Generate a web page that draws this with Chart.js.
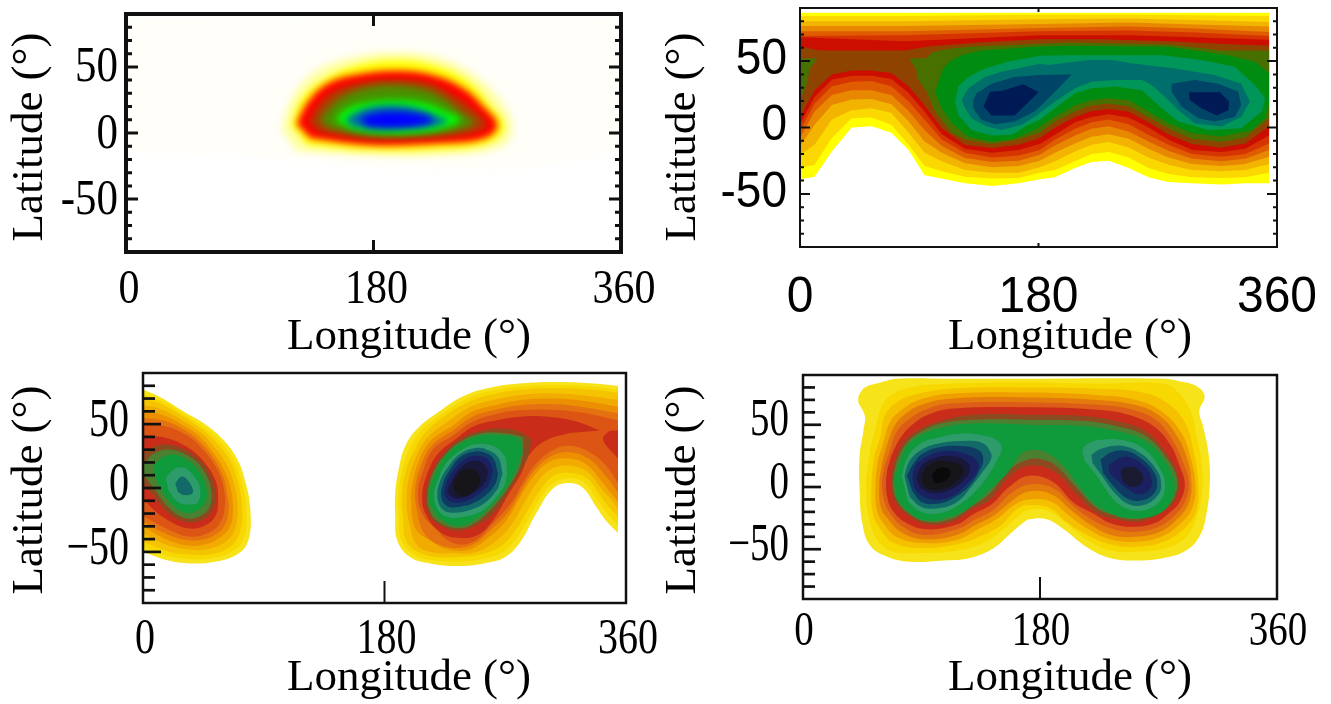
<!DOCTYPE html>
<html>
<head>
<meta charset="utf-8">
<title>Longitude-latitude contour maps</title>
<script src="https://cdn.jsdelivr.net/npm/chart.js@4"></script>
<style>
  html, body { margin: 0; padding: 0; background: #fff; }
  canvas { position: absolute; }
</style>
</head>
<body>
<canvas id="panelA" width="665" height="360" style="left:0;top:0"></canvas>
<canvas id="panelB" width="666" height="360" style="left:665px;top:0"></canvas>
<canvas id="panelC" width="665" height="344" style="left:0;top:360px"></canvas>
<canvas id="panelD" width="666" height="344" style="left:665px;top:360px"></canvas>
<script>
// ---- axis values ----
const lonTicks = [0, 180, 360];
const latTicks = [-50, 0, 50];
const latMinorTicks = [-80, -70, -60, -40, -30, -20, -10, 10, 20, 30, 40, 60, 70, 80];
const latLabelsHyphen = ['-50', '0', '50'];
const latLabelsMinus = ['\u221250', '0', '50'];

// ---- panel A: smooth map, rings are [lon, lat] from outside to inside ----
const ringsA = [
  [[3,87],[355,87],[355,-14],[3,-14]],
  [[113,2],[119,23],[133,43],[156,55],[197,61],[233,55],[258,40],[275,21],[281,2],[272,-11],[226,-17],[177,-17],[124,-14]],
  [[120,6],[128,26],[143,40],[164,50],[197,55],[228,50],[250,38],[265,21],[275,5],[264,-7.5],[226,-12.5],[177,-13],[132,-9]],
  [[124,7],[132,23],[146,37],[167,44],[197,47],[224,43.5],[245,34],[259,21],[270,6],[261,-4],[226,-8],[177,-9],[134,-4]],
  [[133,8],[141,22],[153,32],[173,38],[197,40],[221,37],[238,28],[253,17],[262,6],[253,1],[226,-3],[177,-4],[141,1]],
  [[141,10],[151,22],[163,30],[180,35],[197,36],[216,33],[231,26],[243,16],[253,8],[243,3],[221,0],[177,-1.5],[148,3.5]],
  [[152,10],[160,18],[175,23],[197,25],[216,23],[231,17],[243,10],[231,3.5],[211,0],[182,0],[163,3.5]],
  [[159,10],[168,16],[180,20],[197,21],[214,18],[226,13],[234,9],[223.5,5],[206,3.5],[180,3],[165,5]],
  [[169,10],[177,14],[194,16],[214,14],[223.5,10],[214,6],[194,4],[177,5]]
];
const coloursA = ['#fffef8', '#ffffa8', '#ffff00', '#ff0000', '#a84000', '#4a9000', '#00ff00', '#0070a8', '#0000ff'];

// ---- panel B: bands closed over the top of the map ----
const lonLowerB = [0,11,24,39,54,69,82,94,107,124.5,145,165,181,192.5,207.5,220,233,248,263,278,296,318,336,354];
const lat1LowerB = [-39,-37,-18,0,1,-4,-17,-36,-38.5,-42,-44,-42,-39,-37.5,-30.5,-26,-25,-30.5,-37.5,-41,-42,-43,-42,-42];
const lat2LowerB = [-30.5,-28,-8,7,7.5,2,-13,-29,-33,-37,-38.5,-38,-34,-32,-25.5,-20,-18.5,-22.5,-30.5,-35,-37.5,-38,-37.5,-34];
const lat3LowerB = [-20.5,-13,6,13,14.5,11,-4,-19,-25.5,-32,-34,-34,-30,-25.5,-18,-13,-11,-15,-22.5,-28,-32,-33,-32,-27.5];
const lat4LowerB = [-14,2,17,21,21.5,17.5,4.5,-10.5,-19,-27,-30,-29,-25,-19,-12,-7,-5,-8.5,-16,-22.5,-27.5,-29,-27.5,-22];
const lat5LowerB = [-8,12,24.5,28,28,24.5,12.5,-2,-14,-23,-26,-25,-20.5,-13.5,-6,-1,1,-3,-10.5,-17.5,-23.5,-25.5,-23.5,-17];
const lat6LowerB = [-2.5,18,31,34.5,35,31,19.5,6,-9,-19,-22.5,-21,-17,-9,-1,4,6,2.5,-5.5,-13,-20,-22,-20,-12];
const lat7LowerB = [2.5,23,36,39,39,36.5,26,12,-5,-16,-19,-17,-12.5,-5.5,4,8,10,7.5,0,-9,-17,-18.5,-16,-6];
const lat8LowerB = [8,28,40,43,43,41,31,17,-0.5,-13,-15.5,-13,-8,0,8,12.5,14,12,4,-5,-12.5,-15,-12,1];
const lonUpperB = [0,79,181,248,298,354];
const lat1UpperB = [86.5,86.5,86.5,86.5,86.5,86.5];
const lat2UpperB = [84,84,85,85,84.5,84];
const lat3UpperB = [80,80,81.5,82,81,79.5];
const lat4UpperB = [76.5,76.5,78,79,77.5,76];
const lat5UpperB = [72.5,72.5,75,76,74.5,72];
const lat6UpperB = [69,69.5,72.5,73,71.5,69];
const lat7UpperB = [68,65,69.5,69.5,68,66];
const lonBrownUpperB = [0,15,79,97,135,181,228,278,316,354];
const latBrownUpperB = [61,58,58,61,64,66.5,66.5,65,63,61.5];

function closeBand(lonLower, latLower, lonUpper, latUpper) {
  const lower = lonLower.map((lon, i) => [lon, latLower[i]]);
  const upper = lonUpper.map((lon, i) => [lon, latUpper[i]]).reverse();
  return lower.concat(upper);
}

const innerRingsB = [
  [[0,52],[13,52],[7.5,44.5],[5,32],[0,21]],
  [[82.5,52],[95.6,52.5],[100.6,57],[114.5,59.5],[127,60.8],[147,61.5],[181,63],[202.5,64],[278,62.5],[318,58],[354,58],[354,7],[336,-7.5],[318,-11],[295.6,-8.5],[278,-0.5],[263,8],[248,16],[232.7,18],[220,16.5],[207.5,12],[192.5,4.5],[181,-4],[164.8,-9],[144.6,-12.5],[124.5,-9],[114.5,-4],[102,12],[95.6,27],[88,38],[88,43]],
  [[102,27],[108,44.5],[114.5,50.8],[122,54.5],[137,58],[160,59.5],[177,60.8],[202.5,61.5],[278,60.8],[303,57.5],[323.3,54.5],[343.4,49.5],[354,40.8],[354,17],[351,7],[341,-1.8],[318,-6.8],[295.6,-4.2],[278,3.2],[263,12],[248,20.8],[232.7,22],[220,20.8],[207.5,16.5],[192.5,8.2],[177,-1.8],[160,-9],[144.6,-10.5],[127,-7],[114.5,3.2],[107,14.5]],
  [[117,19.5],[119.5,30.8],[127,38],[139.6,44.5],[157,49.5],[181,54],[202.5,54.5],[273,54.5],[303,50.8],[328,45.8],[343.4,32],[351,22],[348.4,12],[333,-0.5],[308,-1.8],[285.5,4.5],[273,14.5],[258,28],[237.7,30.8],[220,29.5],[207.5,25.8],[192.5,14.5],[181,5.8],[172.3,2],[160,-5.5],[144.6,-6],[129.5,-1.8],[119.5,9.5]],
  [[122,20.8],[127,29.5],[139.6,38],[152,42],[181,48],[187.4,47],[217.6,50.8],[235,50.8],[252.8,48],[283,44.5],[313,39.5],[333,33],[339.6,19.5],[333,8],[318,0.8],[298,3],[285.5,13],[275.5,23],[265.4,32],[258,35.8],[237.7,35.8],[220,34.5],[207.5,29.5],[192.5,19.5],[177,8],[167.3,2],[152,-1.8],[140.9,0.8],[129.5,7],[124.5,14.5]],
  [[130.8,20.8],[133.3,25.8],[144.6,33],[162,38],[181,39.5],[205,40],[195,29.5],[182.4,17],[177,12],[162,4.5],[147,2.5],[137,5.8],[130.8,14.5]],
  [[280.5,33],[298,35.8],[315.7,33],[330.8,27],[333,17],[328.3,8],[313,4.5],[300.6,7],[288,15.8],[280.5,27]],
  [[138.4,15.8],[143.4,27],[152,27.5],[168.5,32.5],[180,26.5],[162,9],[144.6,9]],
  [[293.6,26.5],[317,26.5],[323.8,19.5],[323.3,13],[314.5,9],[303,14.5],[294,20.8]]
];
const ringsB = [
  closeBand(lonLowerB, lat1LowerB, lonUpperB, lat1UpperB),
  closeBand(lonLowerB, lat2LowerB, lonUpperB, lat2UpperB),
  closeBand(lonLowerB, lat3LowerB, lonUpperB, lat3UpperB),
  closeBand(lonLowerB, lat4LowerB, lonUpperB, lat4UpperB),
  closeBand(lonLowerB, lat5LowerB, lonUpperB, lat5UpperB),
  closeBand(lonLowerB, lat6LowerB, lonUpperB, lat6UpperB),
  closeBand(lonLowerB, lat7LowerB, lonUpperB, lat7UpperB),
  closeBand(lonLowerB, lat8LowerB, lonBrownUpperB, latBrownUpperB)
].concat(innerRingsB);
const coloursB = ['#ffff00', '#fbd800', '#f2b400', '#e88800', '#df5c00', '#d63400', '#cc0e00', '#8f4300',
  '#487000', '#487000', '#008c10', '#00965a', '#006e6a', '#004468', '#004468', '#001a55', '#001a55'];

// ---- panel C: left lobe, then right lobe ----
const ringsC = [
  [[0,77],[13,71],[30,60],[47.5,49],[60,37.5],[70,23],[76,6],[80,-17],[78.5,-41],[70,-52],[52,-58],[35,-59],[20,-57],[0,-50]],
  [[354,80],[333,82],[308,83],[283,82],[261,79],[239,72],[221,60],[205,47],[196,34],[191,17],[188,-4],[188,-22],[189.5,-41],[199,-54],[214,-59],[234,-61],[254,-59],[270,-54],[282,-41],[293,-20],[306,0],[318,4],[328,0],[338,-15],[345.5,-26],[354,-35]],
  [[0,73.5],[13,68.5],[30,58],[46,47],[58,35.5],[67.5,22],[73.5,5],[77,-17],[75.5,-38],[67.5,-49],[51,-55],[35,-55.5],[20,-53.5],[0,-46]],
  [[354,77],[333,79.5],[308,80.5],[283,79.5],[262,76.5],[241.5,70],[223.5,58.5],[208,45.5],[199.5,32.5],[193.5,15.5],[190.5,-5.5],[191,-23.5],[192.5,-41],[202,-52],[216.5,-56.5],[234.5,-57.5],[252.5,-55.5],[268,-50],[279.5,-37.5],[290,-18.5],[301,-0.7],[310,6],[318,8],[329.5,4],[339,-10],[347,-21],[354,-28.5]],
  [[0,70],[13,66],[30,56],[45,45],[56,34],[65,21],[71,4],[74,-17],[72,-35],[65,-46],[50,-52],[35,-52],[20,-50],[0,-42]],
  [[354,74.5],[333,77],[308,78],[283,77],[263.5,74],[244,68],[226,57],[211,44],[203,31],[196,14],[193,-7],[194,-25],[196,-41],[205,-50],[219,-54],[235,-54],[251,-52],[266,-46],[277,-34],[287,-17],[296,-1.5],[306,9.4],[318,12],[331,7.6],[340.5,-5.5],[348,-16],[354,-22]],
  [[0,65],[14,61.5],[30,52.5],[44,42.5],[54,31],[62.5,18],[68,2.5],[70.5,-16],[68.5,-32.5],[61,-42.5],[47.5,-48],[32.5,-48],[17.5,-44.5],[0,-36]],
  [[354,69],[333,72],[308,74],[283,73],[263.5,69.5],[245,64],[228.5,53],[213,40.5],[204.5,26.5],[198.5,9],[196.5,-9.5],[198.5,-28],[204.5,-45],[216.5,-50.5],[231,-51],[244.5,-51],[258.5,-45],[274,-29.5],[284.5,-11],[293.5,4],[304.5,15],[318,17.5],[331,13],[342,-1],[349,-9],[354,-16.5]],
  [[0,60],[15,57],[30,49],[42.5,40],[52,28],[60,15],[65,1],[67,-15],[65,-30],[57,-39],[45,-44.5],[30,-44.5],[15,-39],[0,-30]],
  [[354,63.6],[333,67.5],[308,70],[283,69],[263.5,65],[246,60],[231,49],[215,37.5],[206,22],[201,3.7],[200,-12],[203,-31.5],[214,-41],[227.5,-48],[244,-48],[258.5,-38],[271,-25],[282,-5.5],[291,9],[303,20.6],[318,23],[331,18],[343,3.7],[354,-11]],
  [[0,55],[16.5,52.5],[31.5,45],[43,35.5],[53,22.5],[60,8],[63,-7],[64,-15],[61,-29],[53,-37],[40,-41],[25,-39],[7.5,-31],[0,-26]],
  [[354,58.5],[333,62.5],[308,65.5],[283,65],[263.5,61.5],[246,56],[231,45],[215.5,33.5],[207.5,18],[203,0],[204,-16],[210,-36],[224,-45.5],[244,-45],[259.5,-32.5],[273,-18],[282.5,-1],[292,14],[304.5,25],[318,28],[332,23],[344,10.5],[354,-3.5]],
  [[0,50.5],[18,48],[33,41],[44,31],[54,17],[60,1],[61,-15],[57,-28],[49,-35],[35,-38],[20,-33],[0,-22]],
  [[354,53],[333,58],[308,61],[283,61],[263.5,58],[246,52],[231,41],[216,30],[209,14],[205,-4],[208,-20],[217.5,-31.5],[231,-43],[246,-42],[261,-27.6],[275,-11],[283,3.7],[293,19],[306,30],[318,33],[333,28],[345.5,17],[354,3.7]],
  [[0,41],[18,39],[33,32],[45,21],[54,6],[56,-9],[54,-22],[45,-30],[33,-31.5],[20,-26],[8,-17],[0,-8]],
  [[340.5,45],[323,52],[303,55.7],[283,56],[263.5,53],[246,48],[234,39],[220,27],[212,11.5],[208,-7],[211,-21],[221,-34],[234,-39],[249,-37],[261,-25],[273,-4],[282,11.5],[288,26],[301,37.5],[318,43]],
  [[354,45],[347,44],[343,37.5],[354,23]],
  [[0,27],[10,33],[23,33],[37.5,26],[49,13],[54,-4],[51,-18.5],[41,-26],[30,-26],[18,-18.5],[6.5,-4],[0,4]],
  [[290,37.5],[282,43.5],[268.5,46.6],[253.6,45],[239,40],[225,28],[215,11.5],[211,-5.5],[213,-20],[221,-29],[233.7,-33.4],[247,-30],[261,-20],[272,-4],[282,14],[287,24.5]],
  [[0,18],[8,27],[20,30],[34,25],[45,14],[51,-3],[49,-16],[40,-23],[30,-23],[19,-15],[8,0],[0,11]],
  [[283.4,40],[271,42.7],[254.8,43.2],[238.6,37.5],[226,27],[216,11.5],[212,-5.5],[214,-18.5],[221,-27],[235,-31.5],[247,-27.6],[260,-16],[271,-1.5],[280,14],[283.4,27]],
  [[8,11.5],[9,19],[20,26],[33,22],[42.5,11.5],[47.5,-1.5],[45.5,-13],[37.5,-19],[30,-19],[20,-11],[11.5,2.4]],
  [[283,30],[279.6,39],[266,41.4],[253.6,41.4],[238.6,36],[226,25.8],[217.5,10],[213,-5.5],[216,-17],[223.7,-25.5],[235,-29.7],[247,-25],[258.5,-15],[269.7,-1.5],[278.4,14]],
  [[17,7.6],[23,14.6],[30,16],[37.5,10],[42.5,0],[41,-11],[35,-13],[26,-11],[19,-1.5]],
  [[271.4,11.5],[269.7,24.5],[261,32.8],[248.6,34.4],[237.4,29.7],[226,19.3],[220,6.3],[216.8,-5.5],[220,-17.2],[227.5,-22.9],[240,-22.4],[253.6,-17.2],[264.7,-5.5],[269.7,2.4]],
  [[24,3.7],[29,9],[35,3.7],[37,-4],[30,-5.5],[26,-3]],
  [[268,11.5],[264.7,24],[256,30.2],[246,31],[236.2,26.6],[227.5,16.7],[221.3,5],[219.5,-8],[223.7,-17.2],[232.4,-19.3],[243.6,-17.2],[256,-10.7],[264.7,-0.2]],
  [[264.7,11.5],[261,23.2],[254.8,27.6],[246,28.4],[236.2,24],[228.7,14],[223.7,3.7],[222.5,-8],[227.5,-14.6],[236.2,-14.6],[246,-12],[257.3,-4],[263,3.7]],
  [[261,14],[256,23.2],[246,25],[237.4,20.6],[230,11.5],[225,-1.5],[227.5,-9.4],[236.2,-11.4],[247.3,-6.8],[257.3,1.1]],
  [[257.3,12.8],[253.6,19.3],[246,21.4],[237.4,16.7],[231.2,7.6],[227.5,-2.8],[232.4,-8],[241,-6.8],[251,-0.2],[256,6.3]],
  [[251.6,7.6],[247.3,14],[240,14.6],[233.7,8.9],[231.2,2.4],[235,-5.5],[242.4,-5.5],[249.8,1.1]]
];
const coloursC = ['#f8e21a', '#f8e21a', '#f7d800', '#f7d800', '#f5c400', '#f5c400', '#f2ab00', '#f2ab00',
  '#ec8f00', '#ec8f00', '#e47210', '#e47210', '#dc5515', '#dc5515',
  '#c92d1a', '#c92d1a', '#c92d1a', '#8a4a20', '#8a4a20', '#4a8030', '#4a8030', '#0f9a3c', '#0f9a3c',
  '#2e9c6a', '#2e9c6a', '#126a68', '#126a68', '#0f3a64', '#1a2060', '#1a1838', '#15151a'];

// ---- panel D: outer rings, then the two lobes ----
const ringsD = [
  [[42,73],[47,80],[59,84],[71,87],[112,87],[172,87],[274,87],[286,85],[299,81],[305,73],[301,61],[304,48],[308,27],[309,3],[306,-24],[301,-40],[291,-51],[274,-57],[253,-59],[233,-57],[215,-48],[198,-34],[185,-26],[172,-26],[167,-29],[157,-38],[145,-49],[127,-57],[107,-59],[81,-60],[64,-56],[51,-47],[45,-29],[43,-2],[43,25],[46,46],[47,57],[42,68]],
  [[56,52],[60,65],[66,73],[81,80],[112,83],[172,84],[223,83],[274,83],[285,76],[294,62],[299,41],[303,17],[303,-5],[299,-24],[291,-40],[276,-49],[253,-52],[233,-51],[215,-42],[200,-29],[186,-19],[172,-18],[165,-22],[152,-34],[137,-45],[117,-51],[91,-53],[66,-51],[55,-40],[50,-24],[48,3],[51,30]],
  [[59,41],[62,57],[71,68],[84,74],[112,79],[172,80],[223,79],[258,76],[276,68],[290,52],[297,27],[300,6],[299,-18],[290,-33],[274,-44],[253,-48],[233,-46],[215,-38],[200,-28],[188,-17],[172,-14.5],[162,-18],[150,-31],[134,-40],[117,-46],[91,-49],[69,-45],[59,-34],[53,-21],[52,3],[54,25]],
  [[61,35.5],[66,52],[75,62],[88,70],[112,75],[172,76],[223,74],[253,70],[272,61],[287,44],[294,25],[298,3],[296,-16],[287,-29],[272,-40],[253,-44],[233,-42],[217,-34],[201,-22],[189,-12],[172,-10],[161,-14],[147,-26],[133,-34],[117,-42.5],[91,-45],[71,-40],[61,-29],[56,-18],[55,3],[57,22]],
  [[63,31],[69,48],[77,58],[90,66],[112,71],[172,72],[223,70],[252,66],[271,57],[284,41],[292,22],[295,3],[293,-13],[284,-26],[271,-36],[253,-40],[234,-38.5],[218,-30],[203,-18],[189,-6],[172,-3.5],[160,-10],[146,-22],[132,-30],[117,-38.5],[91,-42],[74,-36],[64,-25],[59,-16],[58,3],[60,19]],
  [[66,29],[71,44],[80,54],[93,62],[112,67],[172,68],[223,66],[250,62],[269,53],[281,37],[289,19],[293,3],[290,-12],[281,-24],[270,-32],[253,-36],[236,-34],[219,-26],[204,-14],[190,-1],[172,2],[158,-5],[145,-18],[131,-26],[117,-34],[91,-38.5],[76,-32],[66,-21],[62,-12],[60,3],[62,17]],
  [[67,25],[74,39.5],[83,50],[95,58],[114,63],[172,64],[223,62],[247,58],[266,49],[279,34],[286,17],[290,2],[286,-12],[278,-21],[267,-29],[253,-32],[236,-30],[220,-21],[205,-12],[190,4],[172,9],[157,0.5],[143,-14],[129,-22],[117,-30],[94,-34],[77,-28],[67,-17],[64,-8],[63,3],[64,14]],
  [[67,11],[71,25],[77,37],[88,46],[104,53],[129,58],[172,58],[213,57],[238,53],[260,45],[276,27],[285,9],[284,-8],[276,-18],[262,-26],[251,-28],[234,-25],[222,-20],[207,-5],[190,13],[172,17],[157,8.6],[142,-10],[128,-18],[113,-28],[94,-30],[79,-22],[70,-12],[67,0.5]],
  [[69,11],[72,23],[79,35.5],[89,44],[105,51],[129,54],[172,54],[213,53],[238,49],[260,41],[275,25],[284,7],[282,-8],[275,-17],[262,-24],[251,-26],[234,-22],[222,-16],[207,0.5],[191,18],[180,22.5],[172,22.5],[157,14],[142,-5],[128,-15.6],[112,-26],[94,-28],[80,-21],[71,-10],[68,0.5]],
  [[69,6],[74,22],[80,34],[90,42],[107,48],[129,51],[172,50],[213,49],[238,45],[260,37],[274,22],[282,3],[280,-10],[271,-21],[253,-25],[236,-22],[220,-12],[208,3],[198,17],[188,26],[180,29.5],[172,29.5],[165,26],[155,11],[142,-2],[127,-16],[112,-24],[94,-27],[80,-20],[71,-9]],
  [[75,9],[79,23],[88,34],[102,39.5],[122,43],[139,41],[148,37],[151,31],[148,23],[141,10],[131,-3.5],[119,-14],[104,-21],[90,-20],[80,-12]],
  [[212,29],[215,34],[226,38],[246,37],[261,29],[271,15],[275,3],[272,-10],[261,-18],[248,-18],[236,-10],[223,9],[214,21]],
  [[77,9],[81,21],[90,30],[103,35],[122,37],[136,35.5],[142,29],[143,23],[137,13],[128,0.5],[117,-12],[103,-17],[90,-16],[81,-8]],
  [[219,26],[227,31],[243,33],[258,26],[269,13],[272,3],[270,-6],[260,-14],[248,-14],[237,-5],[227,9],[220,19]],
  [[79,9],[84,19],[91,27],[104,32],[119,33],[133,30],[137,23],[134,13],[126,0.5],[114,-9],[102,-13.5],[90,-12],[83,-3.5]],
  [[226,22],[234,28],[246,29],[258,22],[267,11],[269,2],[266,-6],[256,-11],[246,-9],[236,0.5],[228,11]],
  [[83,9],[86,18],[95,25],[108,29],[123,27],[132,21],[133,14],[124,2],[112,-8],[99,-10],[89,-6],[84,0.5]],
  [[232,17],[240,23],[248,24],[258,18],[264,9],[264,-1],[256,-6],[247,-2],[238,6],[233,11]],
  [[86,7],[90,17],[99,23],[112,25],[123,21.5],[127,14],[120,3],[109,-3.5],[98,-5],[89,-1]],
  [[241,13],[246,16],[253,15],[258,9],[257,3],[250,0],[243,4.5]],
  [[90,9],[95,17],[104,21],[117,19],[122,14],[118,6],[108,-1],[96,-2],[91,2]],
  [[98,10],[103,15],[110,15],[112,10],[107,4.5],[100,3]]
];
const coloursD = ['#f6e31a', '#f7d800', '#f5c000', '#ef9f00', '#e37a0c', '#dc5c18', '#c92d1a', '#8c4a20', '#4a8030', '#0f9a3c',
  '#2e9c6a', '#2e9c6a', '#126a68', '#126a68', '#0f3a64', '#0f3a64', '#1a2060', '#1a2060', '#1a1838', '#1a1a30', '#15151a', '#0a0a0a'];

// ---- drawing ----
const serif = "'Liberation Serif', 'Times New Roman', serif";
const sans = "'Liberation Sans', Arial, sans-serif";

// the reference labels are squeezed sideways, so they are scaled here instead of by the axis
function stretchedText(ctx, text, x, y, font, stretch) {
  ctx.save();
  ctx.translate(x, y);
  ctx.scale(1, stretch);
  ctx.font = font;
  ctx.fillText(text, 0, 0);
  ctx.restore();
}

function framePlugin(frame) {
  return {
    id: 'frame',
    beforeDatasetsDraw(chart) {
      if (frame.blur) {
        chart.ctx.save();
        chart.ctx.filter = 'blur(' + frame.blur + 'px)';
      }
    },
    afterDatasetsDraw(chart) {
      if (frame.blur) chart.ctx.restore();
    },
    afterDraw(chart) {
      const ctx = chart.ctx;
      const area = chart.chartArea;
      const xs = chart.scales.x;
      const ys = chart.scales.y;
      ctx.save();
      ctx.strokeStyle = '#111';
      ctx.fillStyle = '#111';

      // inward tick marks
      const hTick = (v, len, width) => {
        const y = ys.getPixelForValue(v);
        ctx.lineWidth = width;
        ctx.beginPath();
        ctx.moveTo(area.left, y);
        ctx.lineTo(area.left + len, y);
        if (frame.rightTicks) {
          ctx.moveTo(area.right, y);
          ctx.lineTo(area.right - len, y);
        }
        ctx.stroke();
      };
      latMinorTicks.forEach(v => hTick(v, frame.minorLen, frame.tickWidth));
      latTicks.forEach(v => hTick(v, frame.majorLen, frame.tickWidth));
      const midX = xs.getPixelForValue(lonTicks[1]);
      ctx.lineWidth = frame.edgeWidth;
      ctx.beginPath();
      ctx.moveTo(midX, area.bottom);
      ctx.lineTo(midX, area.bottom - frame.edgeLen);
      if (frame.topTick) {
        ctx.moveTo(midX, area.top);
        ctx.lineTo(midX, area.top + frame.edgeLen);
      }
      ctx.stroke();

      ctx.lineWidth = frame.border;
      ctx.strokeRect(area.left, area.top, area.right - area.left, area.bottom - area.top);

      // tick labels
      ctx.fillStyle = '#000';
      ctx.textBaseline = 'middle';
      ctx.textAlign = 'center';
      const xFont = frame.xTickSize + 'px ' + frame.tickFamily;
      xs.ticks.forEach(t => {
        stretchedText(ctx, t.label, xs.getPixelForValue(t.value) + frame.xTickShift, frame.xTickY, xFont, frame.xTickStretch);
      });
      ctx.textAlign = 'right';
      const yFont = frame.yTickSize + 'px ' + frame.tickFamily;
      ys.ticks.forEach(t => {
        stretchedText(ctx, t.label, area.left - frame.yPad, ys.getPixelForValue(t.value) + frame.yTickShift, yFont, frame.yTickStretch);
      });

      // axis titles sit off-centre in the reference
      ctx.textAlign = 'center';
      ctx.font = frame.xTitleSize + 'px ' + serif;
      ctx.fillText('Longitude (\u00b0)', frame.xTitleX, frame.xTitleY);
      ctx.translate(frame.yTitleX, frame.yTitleY);
      ctx.rotate(-Math.PI / 2);
      ctx.font = frame.yTitleSize + 'px ' + serif;
      ctx.fillText('Latitude (\u00b0)', 0, 0);
      ctx.restore();
    }
  };
}

function drawPanel(id, rings, colours, tension, latLabels, frame) {
  // chart.js paints lower order values last, inner rings have to end on top
  const datasets = rings.map((ring, i) => ({
    data: ring.map(p => ({ x: p[0], y: p[1] })),
    order: rings.length - i,
    showLine: true,
    fill: 'shape',
    tension: tension,
    borderWidth: 0,
    pointRadius: 0,
    backgroundColor: colours[i]
  }));
  return new Chart(document.getElementById(id), {
    type: 'scatter',
    data: { datasets: datasets },
    plugins: [framePlugin(frame)],
    options: {
      responsive: false,
      animation: false,
      events: [],
      layout: { padding: { left: 0, top: frame.top, right: frame.right, bottom: 0 } },
      plugins: { legend: { display: false }, tooltip: { enabled: false } },
      scales: {
        x: {
          type: 'linear',
          min: 0,
          max: 360,
          border: { display: false },
          grid: { display: false, drawTicks: false },
          afterBuildTicks: s => { s.ticks = lonTicks.map(v => ({ value: v })); },
          afterFit: s => {
            s.height = frame.xHeight;
            s.paddingLeft = s.paddingRight = s.paddingTop = s.paddingBottom = 0;
          },
          ticks: { display: false, autoSkip: false, callback: v => String(v) }
        },
        y: {
          type: 'linear',
          min: -90,
          max: 90,
          border: { display: false },
          grid: { display: false, drawTicks: false },
          afterBuildTicks: s => { s.ticks = latTicks.map(v => ({ value: v })); },
          afterFit: s => {
            s.width = frame.yWidth;
            s.paddingLeft = s.paddingRight = s.paddingTop = s.paddingBottom = 0;
          },
          ticks: { display: false, autoSkip: false, callback: v => latLabels[latTicks.indexOf(v)] }
        }
      }
    }
  });
}

drawPanel('panelA', ringsA, coloursA, 0.4, latLabelsHyphen, {
  yWidth: 126, top: 14, right: 44, xHeight: 108, border: 4, minorLen: 6, majorLen: 12, tickWidth: 3,
  edgeLen: 12, edgeWidth: 3, rightTicks: true, topTick: true, blur: 3.5, tickFamily: serif,
  xTickSize: 42, xTickStretch: 1.17, xTickShift: 3, xTickY: 290,
  yTickSize: 43, yTickStretch: 1.2, yTickShift: 1, yPad: 8,
  xTitleSize: 45, xTitleX: 409, xTitleY: 337, yTitleSize: 45, yTitleX: 30, yTitleY: 137
});
drawPanel('panelB', ringsB, coloursB, 0, latLabelsHyphen, {
  yWidth: 135, top: 8, right: 54, xHeight: 113, border: 2, minorLen: 4, majorLen: 10, tickWidth: 2,
  edgeLen: 4, edgeWidth: 2, rightTicks: true, topTick: true, blur: 0, tickFamily: sans,
  xTickSize: 48, xTickStretch: 1.03, xTickShift: 0, xTickY: 298,
  yTickSize: 46, yTickStretch: 1.1, yTickShift: -1, yPad: 13,
  xTitleSize: 45, xTitleX: 405, xTitleY: 337, yTitleSize: 45, yTitleX: 18, yTitleY: 137
});
drawPanel('panelC', ringsC, coloursC, 0.4, latLabelsMinus, {
  yWidth: 143, top: 13, right: 39, xHeight: 101, border: 2.5, minorLen: 12, majorLen: 18, tickWidth: 2.7,
  edgeLen: 22, edgeWidth: 2, rightTicks: false, topTick: false, blur: 0, tickFamily: serif,
  xTickSize: 40, xTickStretch: 1.25, xTickShift: 2, xTickY: 280,
  yTickSize: 40, yTickStretch: 1.35, yTickShift: -2, yPad: 14,
  xTitleSize: 45, xTitleX: 409, xTitleY: 318, yTitleSize: 45, yTitleX: 30, yTitleY: 130
});
drawPanel('panelD', ringsD, coloursD, 0.4, latLabelsMinus, {
  yWidth: 138, top: 15, right: 54, xHeight: 105, border: 2.5, minorLen: 12, majorLen: 18, tickWidth: 2.7,
  edgeLen: 22, edgeWidth: 2, rightTicks: false, topTick: false, blur: 0, tickFamily: serif,
  xTickSize: 39, xTickStretch: 1.27, xTickShift: 1, xTickY: 272,
  yTickSize: 39, yTickStretch: 1.33, yTickShift: -3, yPad: 14,
  xTitleSize: 45, xTitleX: 405, xTitleY: 318, yTitleSize: 45, yTitleX: 18, yTitleY: 130
});
</script>
</body>
</html>
